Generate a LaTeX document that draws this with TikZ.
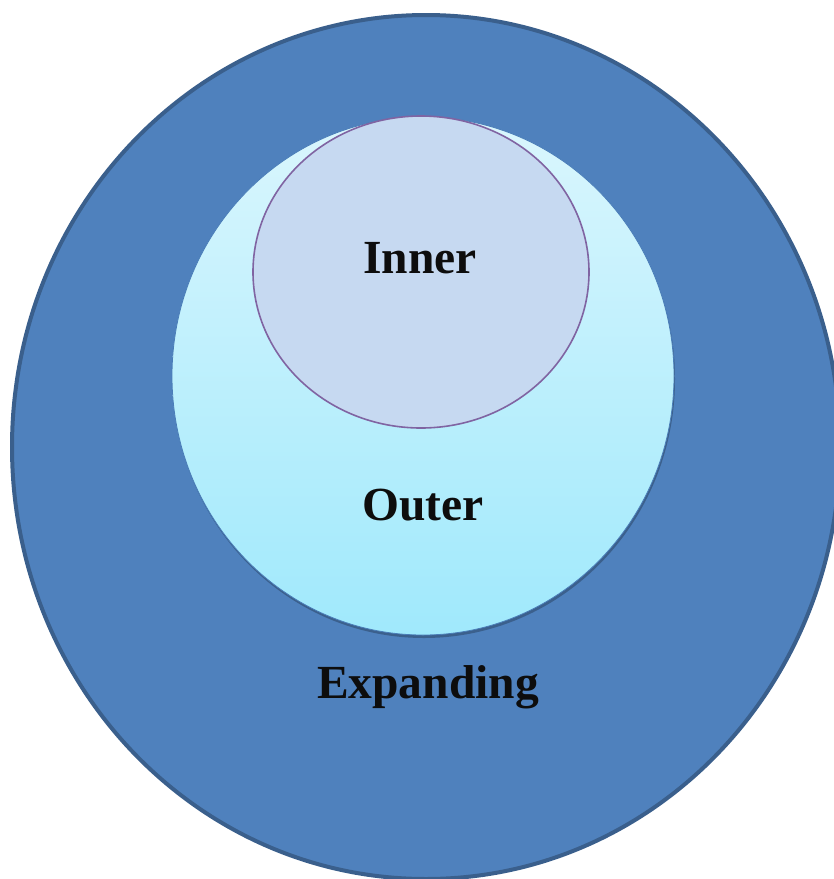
\documentclass[tikz,border=0pt]{standalone}
\usepackage{fontspec}
\setmainfont{Liberation Serif}
\usepackage{xcolor}
\definecolor{expandfill}{HTML}{4F81BD}
\definecolor{expandline}{HTML}{3A5F8C}
\definecolor{outertop}{HTML}{DAF6FD}
\definecolor{outerbot}{HTML}{A0E9FC}
\definecolor{outerline}{HTML}{4A7DB8}
\definecolor{innerfill}{HTML}{C6D9F1}
\definecolor{innerline}{HTML}{8064A2}
\tikzset{%
  ringlabel/.style={font=\fontsize{23.75}{28}\selectfont\bfseries, text=black!95},
}

\begin{document}
\begin{tikzpicture}[x=0.5pt,y=-0.5pt]
\useasboundingbox (0,0) rectangle (834,879);
\draw[fill=expandfill, draw=expandline, line width=2pt] (426,447) ellipse (414 and 432);
\fill[black, opacity=.25] (424,379) ellipse (251 and 259);
\draw[top color=outertop, bottom color=outerbot, draw=outerline, line width=.4pt] (423,376) ellipse (251 and 259);
\draw[fill=innerfill, draw=innerline, line width=.8pt] (421,272) ellipse (168 and 156);
\node[ringlabel] (inner) at (420,258) {Inner};
\node[ringlabel] (outer) at (423,505) {Outer};
\node[ringlabel] (expanding) at (428,687) {Expanding};
\end{tikzpicture}
\end{document}
